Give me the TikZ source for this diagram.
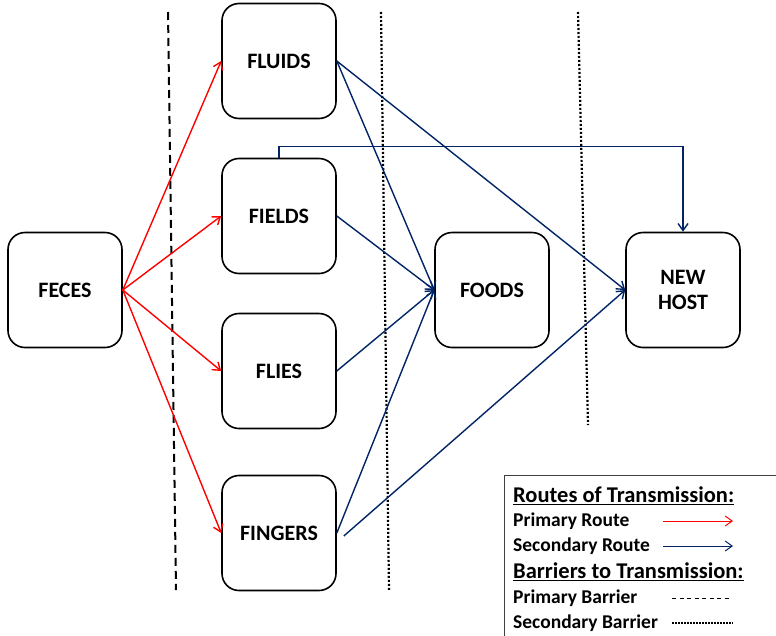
\documentclass[tikz,border=0pt]{standalone}
\usepackage{fontspec}
\setmainfont{Carlito}
\usepackage{tikz}
\usetikzlibrary{positioning, arrows.meta}
\definecolor{routeblue}{RGB}{0,36,102}

\begin{document}
\begin{tikzpicture}[x=1pt, y=-1pt,
	box/.style={rectangle, draw, line width=1.6pt, rounded corners=17pt,
		minimum width=114pt, minimum height=115pt, align=center,
		font=\fontsize{22}{25}\selectfont\bfseries},
	primary/.style={-{Straight Barb[length=7pt, width=10pt]}, red, line width=1.4pt},
	secondary/.style={-{Straight Barb[length=7pt, width=10pt]}, routeblue, line width=1.4pt},
	legendtext/.style={anchor=west, inner sep=0pt, font=\fontsize{19.5}{21}\selectfont\bfseries},
	legendhead/.style={anchor=west, inner sep=0pt, font=\fontsize{22.5}{24}\selectfont\bfseries}]
	\useasboundingbox (0,0) rectangle (776,635);
	% barriers
	\draw[line width=2pt, dash pattern=on 8pt off 5pt] (168,12) -- (176,590);
	\draw[line width=2.2pt, dash pattern=on 2pt off 2pt] (381,12) -- (389,590);
	\draw[line width=2.2pt, dash pattern=on 2pt off 2pt] (578,12) -- (588,425);
	% boxes
	\node[box] (feces) at (65,290) {FECES};
	\node[box] (fluids) at (279,61) {FLUIDS};
	\node[box] (fields) at (279,216) {FIELDS};
	\node[box] (flies) at (279,371) {FLIES};
	\node[box] (fingers) at (279,533) {FINGERS};
	\node[box] (foods) at (492,290) {FOODS};
	\node[box] (newhost) at (683,290) {NEW\\HOST};
	% primary routes
	\foreach \dest in {fluids, fields, flies, fingers}
		\draw[primary] (feces.east) -- (\dest.west);
	% secondary routes
	\foreach \src in {fluids, fields, flies, fingers}
		\draw[secondary] (\src.east) -- (foods.west);
	\draw[secondary] (fluids.east) -- (newhost.west);
	\draw[secondary] ([xshift=7pt, yshift=-3pt]fingers.east) -- (newhost.west);
	\draw[secondary] (fields.north) -- ++(0,-11) -| (newhost.north);
	% legend
	\draw[line width=0.8pt, black!75] (504,640) -- (504,475) -- (780,475);
	\node[legendhead] (routes) at (513,496) {\underline{Routes of Transmission:}};
	\node[legendtext] (prim) at (513,521) {Primary Route};
	\node[legendtext] (sec) at (513,546) {Secondary Route};
	\node[legendhead] (barriers) at (513,572) {\underline{Barriers to Transmission:}};
	\node[legendtext] (pbar) at (513,598) {Primary Barrier};
	\node[legendtext] (sbar) at (513,623) {Secondary Barrier};
	\coordinate (prima) at (663,521);
	\coordinate (primb) at (733,521);
	\coordinate (seca) at (663,546);
	\coordinate (secb) at (733,546);
	\coordinate (pbara) at (672,598);
	\coordinate (pbarb) at (731,598);
	\coordinate (sbara) at (672,623);
	\coordinate (sbarb) at (733,623);
	\draw[primary, line width=1pt] (prima) -- (primb);
	\draw[secondary, line width=1pt] (seca) -- (secb);
	\draw[line width=1pt, dash pattern=on 4pt off 3.5pt] (pbara) -- (pbarb);
	\draw[line width=1.3pt, dash pattern=on 1.5pt off 1.5pt] (sbara) -- (sbarb);
\end{tikzpicture}
\end{document}
